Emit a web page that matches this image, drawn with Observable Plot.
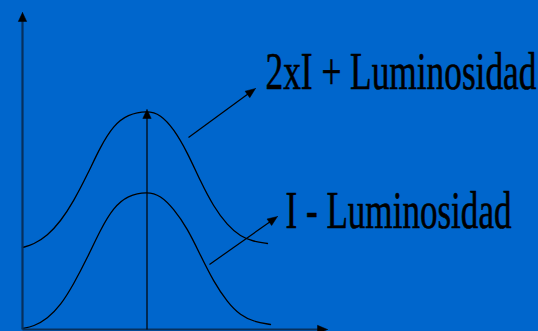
<!DOCTYPE html>
<html>
<head>
<meta charset="utf-8">
<script src="https://cdn.jsdelivr.net/npm/d3@7"></script>
<script src="https://cdn.jsdelivr.net/npm/@observablehq/plot@0.6"></script>
<style>
  html, body { margin: 0; padding: 0; background: #0066CC; }
  #chart svg { display: block; background: #0066CC; }
</style>
</head>
<body>
<div id="chart"></div>
<script>
// Curve "2xI + Luminosidad" (upper)
const upperX = [0, 11, 25, 38, 51, 65, 78, 91, 105, 125, 138, 151, 165, 178, 191, 205, 218, 231, 245];
const upperY = [81, 84, 93, 107, 127, 154, 182, 203, 214, 218, 214, 200, 176, 147, 122, 103, 92, 87, 85];
// Curve "I - Luminosidad" (lower)
const lowerX = [0, 11, 25, 38, 51, 65, 78, 91, 105, 125, 138, 151, 165, 178, 191, 205, 218, 231, 248];
const lowerY = [0, 2, 10, 23, 44, 71, 99, 121, 133, 137, 133, 120, 100, 73, 47, 26, 13, 7, 4];

// Labels
const labels = ["2xI + Luminosidad", "I - Luminosidad"];
const labelX = [243, 263];
const labelY = [240, 101];
const labelWidth = [271, 226];

// Pointer arrows (from curve to label): [x1, y1, x2, y2]
const pointers = [[166, 191, 233, 240], [187, 64, 255, 112]];
// Peak marker and axes
const peakX = 124.5;
const peakTop = 219;
const axisTopY = 316;
const axisRightX = 305;

const upper = upperX.map((x, i) => ({x, y: upperY[i]}));
const lower = lowerX.map((x, i) => ({x, y: lowerY[i]}));

const segs = [
  {x1: 0, y1: -1, x2: 0, y2: axisTopY, stroke: "#06305E", w: 2.2, head: 9, hw: 4.2},
  {x1: 0, y1: -1, x2: axisRightX, y2: -1, stroke: "#06305E", w: 2.2, head: 10, hw: 4.2},
  {x1: peakX, y1: -1, x2: peakX, y2: peakTop, stroke: "black", w: 1.2, head: 9, hw: 4.2},
  ...pointers.map(([x1, y1, x2, y2]) => ({x1, y1, x2, y2, stroke: "black", w: 1.2, head: 10, hw: 4}))
];
const heads = [];
segs.forEach((s, k) => {
  const dx = s.x2 - s.x1, dy = s.y2 - s.y1, L = Math.hypot(dx, dy);
  const ux = dx / L, uy = dy / L, px = -uy, py = ux;
  const bx = s.x2 - ux * s.head, by = s.y2 - uy * s.head;
  heads.push({k, x: s.x2, y: s.y2});
  heads.push({k, x: bx + px * s.hw, y: by + py * s.hw});
  heads.push({k, x: bx - px * s.hw, y: by - py * s.hw});
  heads.push({k, x: s.x2, y: s.y2});
});
const segLines = segs.map(s => {
  const dx = s.x2 - s.x1, dy = s.y2 - s.y1, L = Math.hypot(dx, dy);
  return {...s, x2e: s.x2 - dx / L * (s.head * 0.6), y2e: s.y2 - dy / L * (s.head * 0.6)};
});

const labelData = labels.map((t, i) => ({t, x: labelX[i], y: labelY[i], w: labelWidth[i]}));

const chart = Plot.plot({
  width: 538,
  height: 331,
  marginLeft: 22,
  marginRight: 0,
  marginTop: 3,
  marginBottom: 3,
  x: {domain: [0, 516], axis: null},
  y: {domain: [0, 325], axis: null},
  style: {background: "#0066CC", overflow: "visible"},
  marks: [
    Plot.line(upper, {x: "x", y: "y", curve: "basis", stroke: "black", strokeWidth: 1.3}),
    Plot.line(lower, {x: "x", y: "y", curve: "basis", stroke: "black", strokeWidth: 1.3}),
    Plot.link(segLines, {x1: "x1", y1: "y1", x2: "x2e", y2: "y2e", stroke: d => d.stroke, strokeWidth: d => d.w}),
    Plot.line(heads, {x: "x", y: "y", z: "k", fill: "black", stroke: "black", strokeWidth: 0.5, curve: "linear"}),
    Plot.text(labelData, {x: "x", y: "y", text: "t", textAnchor: "start", lineAnchor: "bottom",
      fontFamily: "Liberation Serif, Times New Roman, serif", fontSize: 53, fill: "black",
      stroke: "black", strokeWidth: 0.6})
  ]
});
document.getElementById("chart").appendChild(chart);
// compress the label glyphs horizontally to the narrow lettering of the original
const texts = chart.querySelectorAll("g[aria-label='text'] text");
texts.forEach((el, i) => {
  const natural = el.getComputedTextLength();
  const s = labelData[i].w / natural;
  const x = +(el.getAttribute("x") || 0);
  const y = +(el.getAttribute("y") || 0);
  const t = el.getAttribute("transform") || "";
  el.setAttribute("x", 0);
  el.setAttribute("y", 0);
  el.setAttribute("transform", `${t} translate(${x},${y}) scale(${s},1)`);
});
</script>
</body>
</html>
